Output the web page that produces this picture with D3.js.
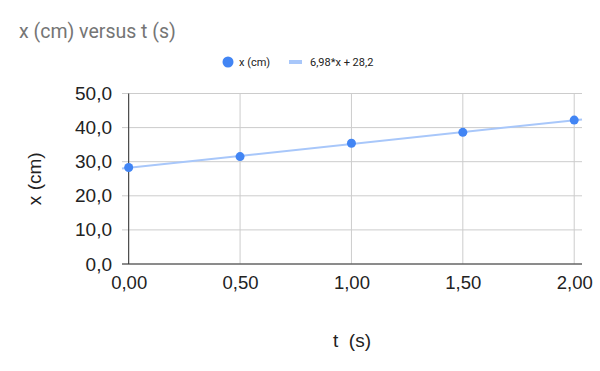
<!DOCTYPE html>
<html><head><meta charset="utf-8">
<script src="https://cdn.jsdelivr.net/npm/d3@7"></script>
<style>body{margin:0;background:#fff}svg{display:block}text{white-space:pre}</style>
</head><body>
<svg id="c" width="600" height="371"></svg>
<script>
const tValues = [0, 0.5, 1.0, 1.5, 2.0];
const xValues = [28.3, 31.5, 35.4, 38.6, 42.2];
const xTicks = [0, 0.5, 1.0, 1.5, 2.0];
const yTicks = [0, 10, 20, 30, 40, 50];
const trendSlope = 6.98, trendIntercept = 28.2;
const seriesName = "x (cm)";
const trendName = "6,98*x + 28,2";

const svg = d3.select("#c");
const L = 122, R = 582, T = 93.5, B = 264;
const x = d3.scaleLinear().domain([-0.03, 2.035]).range([L, R]);
const y = d3.scaleLinear().domain([0, 50]).range([B, T]);
const comma = s => s.replace(".", ",");
const AX = "'Liberation Sans', Arial, sans-serif";
const RB = "Roboto, sans-serif";

svg.append("text").attr("x", 19).attr("y", 38).text("x (cm) versus t (s)")
  .attr("font-family", RB).attr("font-size", 19.5).attr("fill", "#757575");

// legend
svg.append("circle").attr("cx", 228).attr("cy", 62).attr("r", 5.5).attr("fill", "#4285f4");
svg.append("text").attr("x", 239).attr("y", 66).text(seriesName)
  .attr("font-family", RB).attr("font-size", 11).attr("fill", "#222");
svg.append("line").attr("x1", 289).attr("x2", 302).attr("y1", 62).attr("y2", 62)
  .attr("stroke", "#a8c7fa").attr("stroke-width", 4);
svg.append("text").attr("x", 310).attr("y", 66).text(trendName)
  .attr("font-family", RB).attr("font-size", 11).attr("fill", "#222");

// gridlines
svg.append("g").selectAll("line").data(yTicks).join("line")
  .attr("x1", L).attr("x2", R).attr("y1", d => y(d)).attr("y2", d => y(d))
  .attr("stroke", "#cccccc").attr("stroke-width", 1);
svg.append("g").selectAll("line").data(xTicks).join("line")
  .attr("x1", d => x(d)).attr("x2", d => x(d)).attr("y1", T).attr("y2", B)
  .attr("stroke", "#cccccc").attr("stroke-width", 1);

// axes lines
svg.append("line").attr("x1", x(0)).attr("x2", x(0)).attr("y1", T).attr("y2", B)
  .attr("stroke", "#333").attr("stroke-width", 1);
svg.append("line").attr("x1", L).attr("x2", R).attr("y1", y(0)).attr("y2", y(0))
  .attr("stroke", "#333").attr("stroke-width", 1);

const yAxis = d3.axisLeft(y).tickValues(yTicks).tickSize(0).tickPadding(0)
  .tickFormat(d => comma(d3.format(".1f")(d)));
const gy = svg.append("g").attr("transform", `translate(${L - 10},0)`).call(yAxis);
gy.select(".domain").remove();
gy.selectAll("text").attr("font-family", AX).attr("font-size", 19).attr("fill", "#222");

const xAxis = d3.axisBottom(x).tickValues(xTicks).tickSize(0).tickPadding(0)
  .tickFormat(d => comma(d3.format(".2f")(d)));
const gx = svg.append("g").attr("transform", `translate(0,${B + 12})`).call(xAxis);
gx.select(".domain").remove();
gx.selectAll("text").attr("font-family", AX).attr("font-size", 18.5).attr("fill", "#222");

svg.append("text").attr("x", 352).attr("y", 347).attr("text-anchor", "middle").text("t  (s)")
  .attr("font-family", AX).attr("font-size", 19).attr("fill", "#222");
svg.append("text").attr("transform", `translate(41,${(T + B) / 2}) rotate(-90)`)
  .attr("text-anchor", "middle").text("x (cm)")
  .attr("font-family", AX).attr("font-size", 19).attr("fill", "#222");

const dom = x.domain();
svg.append("line")
  .attr("x1", x(dom[0])).attr("y1", y(trendIntercept + trendSlope * dom[0]))
  .attr("x2", x(dom[1])).attr("y2", y(trendIntercept + trendSlope * dom[1]))
  .attr("stroke", "#a8c7fa").attr("stroke-width", 2);

svg.append("g").selectAll("circle").data(tValues).join("circle")
  .attr("cx", d => x(d)).attr("cy", (d, i) => y(xValues[i])).attr("r", 4.5)
  .attr("fill", "#4285f4");
</script>
</body></html>
